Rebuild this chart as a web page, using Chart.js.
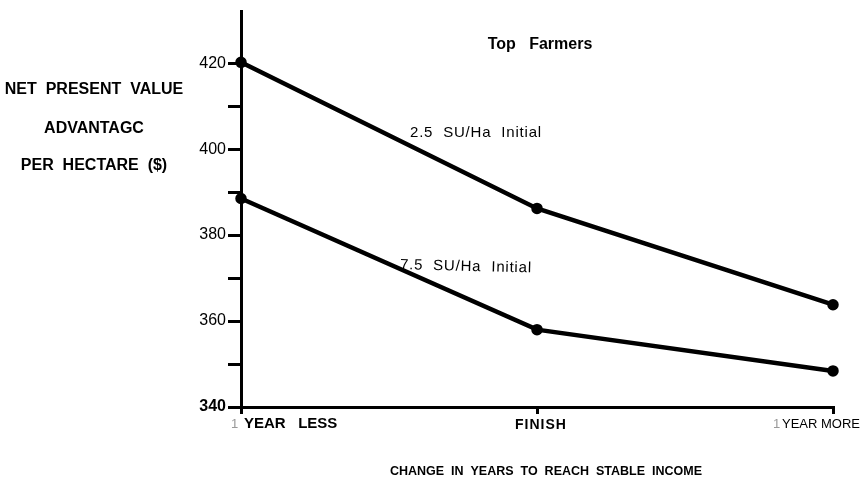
<!DOCTYPE html>
<html><head><meta charset="utf-8">
<script src="https://cdn.jsdelivr.net/npm/chart.js@4"></script>
<style>html,body{margin:0;padding:0;background:#fff}#wrap{width:866px;height:485px}</style>
</head><body><div id="wrap"><canvas id="c" width="866" height="485"></canvas></div>
<script>
const categories = ["1 YEAR LESS", "FINISH", "1 YEAR MORE"];
const series25 = [420.2, 386.2, 363.8];
const series75 = [388.5, 358.0, 348.4];
const seriesNames = ["2.5 SU/Ha Initial", "7.5 SU/Ha Initial"];
const yTickLabels = [340, 360, 380, 400, 420];
const chartTitle = "Top Farmers";
const yTitleLines = ["NET PRESENT VALUE", "ADVANTAGC", "PER HECTARE ($)"];
const xTitle = "CHANGE IN YEARS TO REACH STABLE INCOME";

const F = "'Liberation Sans', Arial, sans-serif";

function spaced(s, n) { return s.split(' ').join(' '.repeat(n)); }

const annot = {
  id: 'annot',
  afterDraw(chart) {
    const ctx = chart.ctx, xs = chart.scales.x;
    ctx.save();
    ctx.fillStyle = '#000';
    ctx.textBaseline = 'middle';
    ctx.textAlign = 'center';
    // title
    ctx.font = 'bold 16px ' + F;
    ctx.fillText(spaced(chartTitle, 3), 540, 45);
    // y title
    ctx.font = 'bold 16px ' + F;
    ctx.fillText(spaced(yTitleLines[0], 2), 94, 90);
    ctx.fillText(yTitleLines[1], 94, 129);
    ctx.fillText(spaced(yTitleLines[2], 2), 94, 166);
    // x title
    ctx.font = 'bold 12.5px ' + F;
    ctx.fillText(spaced(xTitle, 2), 546, 472);
    // series labels
    ctx.font = '15px ' + F;
    ctx.textAlign = 'left';
    try { ctx.letterSpacing = '0.8px'; } catch(e) {}
    ctx.fillText(spaced(seriesNames[0], 2), 410, 133);
    ctx.save();
    ctx.translate(400, 265); ctx.rotate(0.025);
    ctx.fillText(spaced(seriesNames[1], 2), 0, 0);
    ctx.restore();
    try { ctx.letterSpacing = '0px'; } catch(e) {}
    // x tick labels
    const ty = 424;
    const p0 = xs.getPixelForValue(0), p1 = xs.getPixelForValue(1), p2 = xs.getPixelForValue(2);
    const parts0 = categories[0].split(' ');
    ctx.font = '13px ' + F; ctx.fillStyle = '#999';
    ctx.fillText(parts0[0], p0 - 10, ty);
    ctx.fillStyle = '#000'; ctx.font = 'bold 15px ' + F;
    ctx.fillText(parts0.slice(1).join('   '), p0 + 3, ty);
    ctx.textAlign = 'center';
    ctx.save();
    ctx.font = 'bold 14px ' + F;
    try { ctx.letterSpacing = '1px'; } catch(e) {}
    ctx.fillText(categories[1], p1 + 4, ty + 1);
    ctx.restore();
    const parts2 = categories[2].split(' ');
    ctx.textAlign = 'left';
    ctx.font = '13px ' + F; ctx.fillStyle = '#999';
    ctx.fillText(parts2[0], p2 - 60, ty);
    ctx.fillStyle = '#000';
    ctx.font = '13px ' + F;
    ctx.fillText(parts2.slice(1).join(' '), p2 - 51, ty);
    ctx.restore();
  }
};

new Chart(document.getElementById('c'), {
  type: 'line',
  data: {
    labels: categories,
    datasets: [
      { label: seriesNames[0], data: series25, borderColor: '#000', backgroundColor: '#000', borderWidth: 4.5, pointRadius: 3.5, pointBackgroundColor: '#000', tension: 0 },
      { label: seriesNames[1], data: series75, borderColor: '#000', backgroundColor: '#000', borderWidth: 4.5, pointRadius: 3.5, pointBackgroundColor: '#000', tension: 0 }
    ]
  },
  options: {
    responsive: false,
    animation: false,
    layout: { padding: { left: 0, right: 33, top: 10, bottom: 0 } },
    plugins: { legend: { display: false }, tooltip: { enabled: false } },
    scales: {
      x: {
        type: 'category',
        offset: false,
        afterFit(s) { s.height = 78; },
        border: { display: true, color: '#000', width: 3 },
        grid: { drawOnChartArea: false, drawTicks: true, tickLength: 7, color: '#000', lineWidth: 3 },
        ticks: { display: false }
      },
      y: {
        min: 340, max: 432,
        afterFit(s) { s.width = 241; },
        afterBuildTicks(s) {
          const t = [];
          for (let v = 340; v <= 420; v += 10) t.push({ value: v });
          s.ticks = t;
        },
        border: { display: true, color: '#000', width: 3 },
        grid: { drawOnChartArea: false, drawTicks: true, tickLength: 13, color: '#000', lineWidth: 3 },
        ticks: {
          color: '#000',
          padding: 2,
          font: (c) => (c.tick && c.tick.value === 340) ? { family: F, size: 16, weight: 'bold' } : { family: F, size: 16 },
          callback: (v) => yTickLabels.includes(v) ? String(v) : ''
        }
      }
    }
  },
  plugins: [annot]
});
</script>
</body></html>
